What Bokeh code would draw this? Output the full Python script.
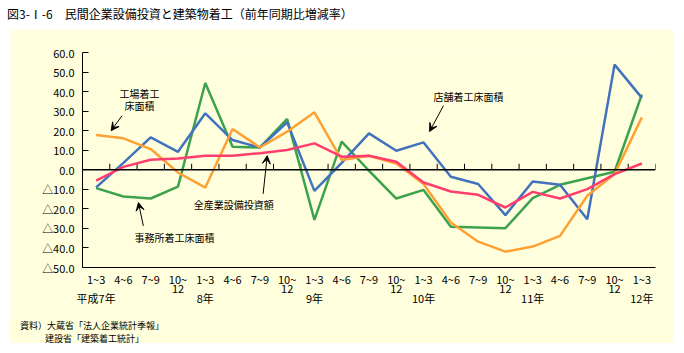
from bokeh.plotting import figure
from bokeh.models import (FixedTicker, Arrow, VeeHead, Div, Spacer, Span,
                          ColumnDataSource, Range1d)
from bokeh.layouts import column, row
from bokeh.core.properties import value
from bokeh.embed import file_html
from bokeh.resources import INLINE

# ---------------- data ----------------
quarters = ["1~3", "4~6", "7~9", "10~\n12"] * 5 + ["1~3"]
year_labels = ["平成7年", "8年", "9年", "10年", "11年", "12年"]

# 店舗着工床面積 (blue)
store = [-9.0, 3.5, 16.6, 9.2, 28.9, 15.2, 11.4, 24.3, -10.8, 3.5, 18.6,
         9.7, 14.0, -3.6, -7.3, -23.2, -6.0, -7.7, -25.3, 53.8, 36.8]
# 事務所着工床面積 (green)
office = [-9.4, -13.7, -14.7, -8.6, 44.4, 11.8, 11.4, 26.0, -25.6, 14.4, -0.5,
          -14.7, -10.3, -29.2, -29.5, -29.9, -14.5, -7.7, -4.3, -1.0, 38.5]
# 工場着工床面積 (orange)
factory = [17.8, 16.1, 10.6, -1.4, -9.1, 20.9, 11.4, 19.5, 29.4, 5.0, 7.2,
           3.2, -7.3, -27.0, -36.8, -41.9, -39.3, -33.8, -13.3, -2.2, 26.8]
# 全産業設備投資額 (pink)
capex = [-5.6, 1.5, 5.1, 5.8, 7.2, 7.2, 8.5, 10.1, 13.5, 6.7, 7.2,
         4.1, -6.5, -11.1, -12.8, -19.3, -11.3, -14.7, -9.9, -2.2, 3.2]

y_ticks = [-50, -40, -30, -20, -10, 0, 10, 20, 30, 40, 50, 60]
y_tick_labels = ["△50.0", "△40.0", "△30.0", "△20.0", "△10.0", "0.0",
                 "10.0", "20.0", "30.0", "40.0", "50.0", "60.0"]

series_names = ["事務所着工床面積", "店舗着工床面積", "工場着工床面積", "全産業設備投資額"]
series_colors = ["#3DA24E", "#4272BE", "#FFA033", "#FF3D6E"]

title_text = "図3-Ⅰ-6　民間企業設備投資と建築物着工（前年同期比増減率）"
source_lines = ["資料）大蔵省「法人企業統計季報」", "建設省「建築着工統計」"]

# ---------------- styling ----------------
YELLOW = "#FFFFDD"
FONT = "Noto Sans CJK JP"
n = len(quarters)
xs = list(range(n))

p = figure(width=664, height=290,
           x_range=Range1d(-0.5, n - 0.5), y_range=Range1d(-50, 60),
           output_backend="svg", toolbar_location=None,
           min_border_left=72, min_border_right=19,
           min_border_top=23, min_border_bottom=52,
           background_fill_color=YELLOW, border_fill_color=YELLOW,
           outline_line_color=None)
p.xgrid.visible = False
p.ygrid.visible = False

# y axis
ya = p.yaxis[0]
ya.ticker = FixedTicker(ticks=y_ticks, minor_ticks=[])
ya.major_label_overrides = {float(t): l for t, l in zip(y_ticks, y_tick_labels)}
ya.major_tick_in = 6
ya.major_tick_out = 0
ya.minor_tick_line_color = None
ya.axis_line_color = "black"
ya.major_tick_line_color = "black"
ya.major_label_standoff = 8
ya.major_label_text_font = FONT
ya.major_label_text_font_size = "11px"
ya.major_label_text_color = "black"

# bottom axis (labels)
labels = []
for i, q in enumerate(quarters):
    lab = q
    if i % 4 == 0:
        lab = q + "\n\n" + year_labels[i // 4]
    labels.append(lab)
xa = p.xaxis[0]
xa.ticker = FixedTicker(ticks=xs, minor_ticks=[])
xa.major_label_overrides = {float(i): l for i, l in enumerate(labels)}
xa.major_tick_in = 0
xa.major_tick_out = 0
xa.major_tick_line_color = None
xa.minor_tick_line_color = None
xa.axis_line_color = "black"
xa.major_label_standoff = 3
xa.major_label_text_font = FONT
xa.major_label_text_font_size = "11px"
xa.major_label_text_color = "black"
xa.major_label_text_line_height = 0.6

# zero line with upward ticks between quarters
p.add_layout(Span(location=0, dimension="width", line_color="black", line_width=1.5))
bounds = [i - 0.5 for i in range(n + 1)]
tick_len = 6 / (215 / 110.0)  # 6 px in data units
p.segment(x0=bounds, y0=[0] * len(bounds), x1=bounds, y1=[tick_len] * len(bounds),
          line_color="black", line_width=1)

# lines
for data, col in zip([office, store, factory, capex], series_colors):
    p.line(xs, data, line_color=col, line_width=2.5)

# annotation texts (data coords)
ann = ColumnDataSource(dict(
    x=[1.59, 1.59, 2.87, 5.04, 13.65],
    y=[39.0, 32.8, -34.7, -17.6, 37.4],
    t=["工場着工", "床面積", "事務所着工床面積", "全産業設備投資額", "店舗着工床面積"],
))
p.text(x="x", y="y", text="t", source=ann, text_font=value(FONT),
       text_font_size="10px", text_align="center", text_baseline="middle",
       text_color="black")

arrows = [((0.95, 27.7), (0.55, 20.0)),
          ((1.73, -28.7), (1.55, -16.8)),
          ((6.12, -12.3), (6.27, 7.2)),
          ((12.73, 32.8), (12.22, 19.6))]
for (x0, y0), (x1, y1) in arrows:
    p.add_layout(Arrow(x_start=x0, y_start=y0, x_end=x1, y_end=y1,
                       line_color="black", line_width=1,
                       end=VeeHead(size=8, fill_color="black", line_color="black")))

title_div = Div(text=title_text, width=684, height=29, margin=0,
                styles={"font-family": FONT, "font-size": "12px", "color": "black",
                        "padding-left": "7px", "padding-top": "6px",
                        "line-height": "16px", "box-sizing": "border-box",
                        "white-space": "nowrap"})
src_div = Div(text=source_lines[0] + "<br>" + "<span style='padding-left:25px'>" + source_lines[1] + "</span>",
              width=664, height=24, margin=0,
              styles={"font-family": FONT, "font-size": "9px", "color": "black",
                      "background-color": YELLOW, "padding-left": "10px",
                      "padding-top": "0px", "line-height": "13px",
                      "box-sizing": "border-box", "white-space": "nowrap"})

layout = column(title_div,
                row(Spacer(width=10, height=314, margin=0),
                    column(p, src_div, margin=0, spacing=0), margin=0, spacing=0),
                margin=0, spacing=0)

open("out.html", "w").write(file_html(layout, INLINE))
